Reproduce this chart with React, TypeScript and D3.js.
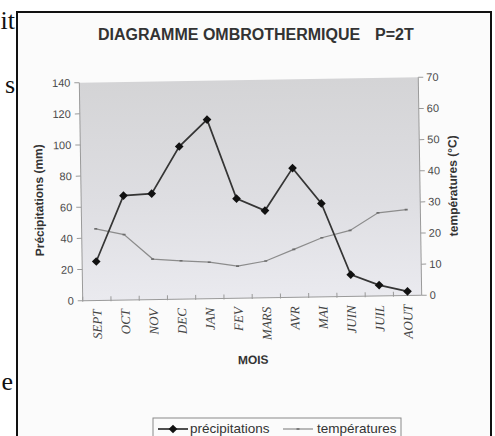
import React from "react";
import * as d3 from "d3";

const months = ["SEPT", "OCT", "NOV", "DEC", "JAN", "FEV", "MARS", "AVR", "MAI", "JUIN", "JUIL", "AOUT"];
const precipitations = [25, 67, 68, 98, 115, 64, 56, 83, 60, 14, 7, 2.7];
const temperatures = [23, 21, 13, 12.3, 11.7, 10.3, 11.8, 15.4, 19, 21.2, 26.7, 27.6];
const precipTicks = [0, 20, 40, 60, 80, 100, 120, 140];
const tempTicks = [0, 10, 20, 30, 40, 50, 60, 70];

const W = 495;
const H = 436;
const M = { left: 81, right: 420, top: 80, bottom: 298 };
const sans = "'Liberation Sans', Arial, sans-serif";
const serif = "'Liberation Serif', 'Times New Roman', serif";

export default function App() {
  const x = d3.scaleBand<string>().domain(months).range([M.left, M.right]);
  const yP = d3.scaleLinear().domain([0, 140]).range([M.bottom, M.top]);
  const yT = d3.scaleLinear().domain([0, 70]).range([M.bottom, M.top]);
  const cx = (m: string) => (x(m) as number) + x.bandwidth() / 2;

  const lineP = d3
    .line<number>()
    .x((_, i) => cx(months[i]))
    .y((d) => yP(d));
  const lineT = d3
    .line<number>()
    .x((_, i) => cx(months[i]))
    .y((d) => yT(d));
  const diamond = d3.symbol().type(d3.symbolDiamond2).size(48)() as string;

  const rotCx = (M.left + M.right) / 2;
  const rotCy = (M.top + M.bottom) / 2;

  return (
    <svg
      width={W}
      height={H}
      style={{ position: "absolute", left: 0, top: 0, display: "block", background: "#fff" }}
    >
      <defs>
        <linearGradient id="plotbg" x1="0" y1="0" x2="0" y2="1">
          <stop offset="0%" stopColor="#d4d4d6" />
          <stop offset="55%" stopColor="#dedee2" />
          <stop offset="100%" stopColor="#eaeaef" />
        </linearGradient>
      </defs>

      {/* page text fragments */}
      <g fontFamily={serif} fontSize={26} fill="#111" textAnchor="end">
        <text x={15} y={29}>it</text>
        <text x={15} y={93}>s</text>
        <text x={13} y={390}>e</text>
      </g>

      {/* frame */}
      <rect x={17} y={12} width={474} height={440} fill="#fbfbfb" stroke="#111" strokeWidth={2} />

      {/* title */}
      <text x={98} y={40} fontFamily={sans} fontWeight="bold" fontSize={16} fill="#333">
        DIAGRAMME OMBROTHERMIQUE
      </text>
      <text x={375} y={40} fontFamily={sans} fontWeight="bold" fontSize={16} fill="#333">
        P=2T
      </text>

      <g transform={`rotate(-0.9, ${rotCx}, ${rotCy})`}>
        <rect
          x={M.left}
          y={M.top}
          width={M.right - M.left}
          height={M.bottom - M.top}
          fill="url(#plotbg)"
        />
        {/* left axis */}
        <line x1={M.left} x2={M.left} y1={M.top} y2={M.bottom} stroke="#9a9a9a" />
        {precipTicks.map((t) => (
          <g key={"p" + t}>
            <line x1={M.left - 5} x2={M.left} y1={yP(t)} y2={yP(t)} stroke="#9a9a9a" />
            <text
              x={M.left - 9}
              y={yP(t)}
              dy="0.35em"
              textAnchor="end"
              fontFamily={sans}
              fontSize={11}
              fill="#4a4a4a"
            >
              {t}
            </text>
          </g>
        ))}
        {/* right axis */}
        <line x1={M.right} x2={M.right} y1={M.top} y2={M.bottom} stroke="#9a9a9a" />
        {tempTicks.map((t) => (
          <g key={"t" + t}>
            <line x1={M.right} x2={M.right + 5} y1={yT(t)} y2={yT(t)} stroke="#9a9a9a" />
            <text
              x={M.right + 8}
              y={yT(t)}
              dy="0.35em"
              textAnchor="start"
              fontFamily={sans}
              fontSize={11}
              fill="#4a4a4a"
            >
              {t}
            </text>
          </g>
        ))}
        {/* x axis */}
        <line x1={M.left} x2={M.right} y1={M.bottom} y2={M.bottom} stroke="#9a9a9a" />
        {months.map((m) => (
          <line
            key={"xt" + m}
            x1={x(m) as number}
            x2={x(m) as number}
            y1={M.bottom - 4}
            y2={M.bottom + 1}
            stroke="#9a9a9a"
          />
        ))}
        {months.map((m) => (
          <text
            key={"xl" + m}
            transform={`translate(${cx(m) + 4.5}, ${M.bottom + 9}) rotate(-90)`}
            textAnchor="end"
            fontFamily={serif}
            fontStyle="italic"
            fontSize={13}
            fill="#444"
          >
            {m}
          </text>
        ))}

        {/* axis titles */}
        <text
          transform={`translate(43, ${(M.top + M.bottom) / 2 + 8}) rotate(-90)`}
          textAnchor="middle"
          fontFamily={sans}
          fontWeight="bold"
          fontSize={12}
          fill="#333"
        >
          Précipitations (mm)
        </text>
        <text
          transform={`translate(457, ${(M.top + M.bottom) / 2}) rotate(-90)`}
          textAnchor="middle"
          fontFamily={sans}
          fontWeight="bold"
          fontSize={12}
          fill="#333"
        >
          températures (°C)
        </text>
        <text
          x={(M.left + M.right) / 2}
          y={364}
          textAnchor="middle"
          fontFamily={sans}
          fontWeight="bold"
          fontSize={12}
          fill="#333"
        >
          MOIS
        </text>

        {/* temperature line */}
        <path d={lineT(temperatures) as string} fill="none" stroke="#8c8c8c" strokeWidth={1.2} />
        {temperatures.map((t, i) => (
          <line
            key={"tm" + i}
            x1={cx(months[i]) - 1.5}
            x2={cx(months[i]) + 1.5}
            y1={yT(t)}
            y2={yT(t)}
            stroke="#6c6c6c"
            strokeWidth={1.6}
          />
        ))}

        {/* precipitation line */}
        <path d={lineP(precipitations) as string} fill="none" stroke="#353535" strokeWidth={1.7} />
        {precipitations.map((p, i) => (
          <path
            key={"pm" + i}
            d={diamond}
            transform={`translate(${cx(months[i])}, ${yP(p)})`}
            fill="#111"
          />
        ))}
      </g>

      {/* legend */}
      <rect x={153} y={418} width={248} height={30} fill="#fbfbfb" stroke="#8a8a8a" strokeWidth={1} />
      <line x1={158} x2={188} y1={429} y2={429} stroke="#222" strokeWidth={1.6} />
      <path d={diamond} transform="translate(173, 429)" fill="#111" />
      <text x={190} y={433} fontFamily={sans} fontSize={13.5} fill="#333">
        précipitations
      </text>
      <line x1={283} x2={313} y1={429} y2={429} stroke="#8c8c8c" strokeWidth={1.2} />
      <line x1={296.5} x2={299.5} y1={429} y2={429} stroke="#6c6c6c" strokeWidth={1.6} />
      <text x={317} y={433} fontFamily={sans} fontSize={13.5} fill="#333">
        températures
      </text>
    </svg>
  );
}
